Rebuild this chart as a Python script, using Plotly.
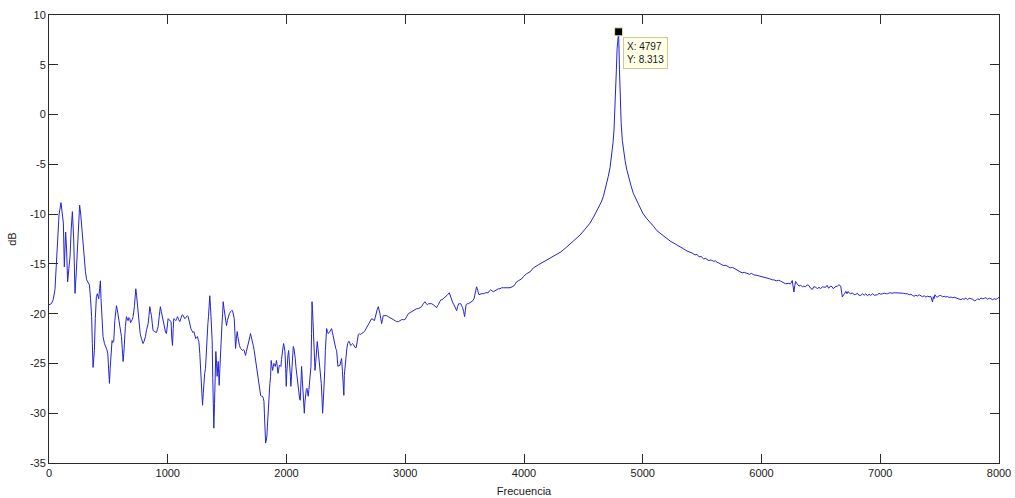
import plotly.graph_objects as go

# Espectro de magnitud (dB) frente a frecuencia (Hz)
frecuencia = [
    0, 20, 35, 50, 62, 73, 85, 101, 112, 121, 129, 140, 148, 157, 167, 177, 187, 197, 208, 219,
    229, 239, 250, 258, 267, 275, 287, 298, 307, 317, 330, 340, 350, 359, 365, 371, 377, 382, 390, 399,
    407, 413, 419, 426, 433, 438, 444, 450, 455, 467, 478, 487, 495, 502, 509, 515, 520, 526, 531, 538,
    545, 554, 561, 568, 575, 582, 589, 596, 603, 610, 617, 624, 630, 635, 643, 652, 659, 666, 673, 680,
    687, 694, 701, 708, 713, 719, 725, 731, 738, 745, 752, 759, 768, 778, 785, 792, 800, 812, 822, 835,
    842, 849, 856, 863, 870, 877, 890, 905, 912, 919, 928, 938, 946, 955, 965, 975, 982, 989, 996, 1003,
    1010, 1017, 1023, 1028, 1034, 1040, 1046, 1051, 1060, 1068, 1075, 1082, 1092, 1102, 1109, 1116, 1123, 1130, 1137, 1144,
    1151, 1158, 1165, 1172, 1179, 1186, 1195, 1203, 1212, 1220, 1228, 1236, 1243, 1250, 1256, 1262, 1270, 1276, 1282, 1287,
    1293, 1299, 1304, 1311, 1318, 1325, 1332, 1338, 1343, 1349, 1354, 1360, 1366, 1370, 1374, 1379, 1383, 1388, 1394, 1399,
    1405, 1411, 1416, 1421, 1425, 1429, 1433, 1439, 1444, 1450, 1456, 1462, 1467, 1474, 1481, 1488, 1495, 1502, 1509, 1519,
    1529, 1537, 1546, 1553, 1560, 1566, 1571, 1578, 1585, 1590, 1596, 1604, 1613, 1621, 1630, 1637, 1644, 1650, 1655, 1662,
    1669, 1677, 1686, 1692, 1697, 1704, 1711, 1720, 1728, 1738, 1748, 1758, 1767, 1775, 1782, 1790, 1798, 1805, 1810, 1814,
    1818, 1824, 1830, 1835, 1839, 1843, 1849, 1855, 1860, 1866, 1871, 1877, 1883, 1889, 1894, 1900, 1905, 1911, 1916, 1922,
    1928, 1934, 1939, 1946, 1953, 1958, 1964, 1970, 1975, 1981, 1987, 1993, 1998, 2002, 2006, 2012, 2018, 2024, 2029, 2033,
    2037, 2042, 2048, 2053, 2057, 2063, 2068, 2074, 2079, 2086, 2093, 2099, 2105, 2111, 2116, 2122, 2127, 2133, 2138, 2144,
    2150, 2155, 2161, 2167, 2172, 2178, 2183, 2189, 2195, 2200, 2206, 2211, 2215, 2219, 2223, 2227, 2231, 2236, 2240, 2246,
    2251, 2255, 2259, 2265, 2271, 2277, 2282, 2288, 2293, 2299, 2304, 2310, 2316, 2322, 2327, 2333, 2338, 2345, 2352, 2359,
    2366, 2373, 2380, 2387, 2394, 2401, 2408, 2415, 2422, 2428, 2433, 2442, 2450, 2457, 2464, 2471, 2478, 2483, 2487, 2494,
    2501, 2508, 2515, 2522, 2529, 2540, 2549, 2556, 2563, 2570, 2578, 2587, 2596, 2605, 2613, 2620, 2633, 2647, 2661, 2675,
    2689, 2703, 2717, 2729, 2740, 2747, 2754, 2763, 2773, 2780, 2787, 2794, 2801, 2808, 2815, 2829, 2843, 2857, 2871, 2885,
    2899, 2913, 2928, 2942, 2956, 2970, 2984, 2998, 3012, 3026, 3040, 3054, 3068, 3082, 3096, 3110, 3124, 3138, 3152, 3166,
    3176, 3186, 3197, 3208, 3222, 3236, 3250, 3265, 3272, 3279, 3290, 3301, 3310, 3320, 3331, 3343, 3357, 3371, 3381, 3391,
    3400, 3410, 3422, 3433, 3441, 3450, 3458, 3467, 3475, 3483, 3492, 3500, 3506, 3512, 3522, 3531, 3545, 3559, 3569, 3579,
    3590, 3601, 3611, 3621, 3639, 3657, 3678, 3699, 3709, 3719, 3730, 3742, 3756, 3770, 3784, 3798, 3812, 3826, 3854, 3882,
    3900, 3916, 3927, 3938, 3952, 3966, 3980, 3994, 4020, 4051, 4079, 4120, 4163, 4210, 4261, 4310, 4360, 4415, 4472, 4515,
    4556, 4590, 4626, 4650, 4668, 4690, 4710, 4725, 4738, 4750, 4758, 4765, 4771, 4778, 4784, 4790, 4797, 4804, 4810, 4818,
    4828, 4840, 4851, 4865, 4879, 4900, 4920, 4950, 4977, 5000, 5030, 5063, 5089, 5120, 5155, 5190, 5230, 5274, 5310, 5345,
    5380, 5415, 5440, 5457, 5475, 5490, 5513, 5530, 5556, 5575, 5598, 5612, 5626, 5640, 5660, 5682, 5700, 5720, 5738, 5755,
    5775, 5795, 5815, 5837, 5855, 5879, 5900, 5915, 5935, 5960, 5992, 6010, 6030, 6048, 6070, 6090, 6104, 6125, 6145, 6160,
    6180, 6203, 6225, 6245, 6259, 6266, 6273, 6280, 6287, 6300, 6315, 6330, 6345, 6357, 6370, 6385, 6399, 6410, 6428, 6440,
    6456, 6470, 6484, 6498, 6512, 6525, 6540, 6552, 6566, 6582, 6595, 6605, 6620, 6639, 6652, 6667, 6674, 6681, 6690, 6700,
    6710, 6720, 6729, 6740, 6751, 6765, 6780, 6793, 6808, 6820, 6835, 6850, 6865, 6878, 6892, 6906, 6920, 6935, 6950, 6963,
    6976, 6990, 7004, 7018, 7035, 7050, 7061, 7080, 7100, 7117, 7140, 7160, 7173, 7195, 7210, 7229, 7245, 7258, 7271, 7285,
    7300, 7314, 7328, 7342, 7356, 7370, 7384, 7398, 7412, 7426, 7433, 7440, 7447, 7453, 7460, 7471, 7482, 7496, 7510, 7524,
    7538, 7553, 7566, 7580, 7595, 7610, 7623, 7637, 7650, 7665, 7679, 7693, 7707, 7721, 7735, 7749, 7763, 7777, 7792, 7806,
    7820, 7834, 7848, 7862, 7876, 7890, 7904, 7918, 7932, 7946, 7960, 7975, 7990, 8000,
]

magnitud_db = [
    -19.1, -19.0, -18.6, -17.6, -15.0, -11.9, -10.0, -8.85, -10.0, -10.9, -15.3, -11.8, -13.5, -16.8, -15.5, -14.3, -11.5, -9.75, -12.5, -17.96,
    -16.0, -13.9, -11.0, -9.1, -10.0, -11.3, -13.0, -14.3, -15.8, -16.6, -17.0, -17.1, -18.5, -20.3, -23.0, -25.4, -24.5, -23.7, -20.5, -18.3,
    -18.0, -18.2, -18.5, -17.5, -16.7, -18.5, -20.3, -21.5, -22.3, -23.0, -23.3, -23.6, -24.0, -25.5, -27.0, -25.5, -24.7, -23.5, -22.7, -22.9,
    -22.8, -20.7, -19.8, -19.2, -19.6, -20.2, -20.7, -21.0, -21.5, -22.3, -23.5, -24.8, -24.0, -22.7, -21.3, -20.3, -20.6, -20.7, -20.4, -20.5,
    -20.9, -20.8, -20.6, -20.3, -20.0, -19.3, -18.4, -17.5, -18.2, -19.0, -20.2, -21.3, -22.0, -22.5, -22.8, -23.0, -22.8, -22.3, -21.6, -21.0,
    -20.2, -19.3, -19.8, -20.2, -21.0, -21.7, -21.8, -21.9, -21.6, -21.3, -20.3, -19.3, -19.8, -20.3, -21.0, -21.7, -21.9, -22.0, -21.3, -20.5,
    -20.6, -20.7, -20.8, -20.8, -22.5, -23.2, -21.5, -20.5, -20.6, -20.7, -20.5, -20.3, -20.6, -20.8, -20.5, -20.3, -20.1, -20.2, -20.4, -20.5,
    -20.4, -20.3, -20.2, -20.3, -20.8, -21.2, -21.5, -21.7, -21.9, -21.8, -22.2, -22.5, -22.4, -22.3, -22.6, -22.8, -24.0, -25.7, -27.5, -28.3,
    -29.2, -28.0, -26.7, -26.0, -25.5, -23.5, -22.0, -21.0, -20.3, -19.0, -18.2, -19.3, -20.7, -21.8, -22.7, -26.5, -29.7, -31.5, -29.0, -27.0,
    -23.8, -25.0, -26.3, -25.3, -24.8, -26.0, -27.2, -25.5, -23.7, -22.4, -21.2, -20.0, -18.8, -19.5, -20.0, -20.6, -21.2, -20.7, -20.3, -20.0,
    -19.8, -19.7, -19.7, -20.0, -20.5, -22.0, -23.5, -22.5, -21.8, -22.3, -22.8, -23.2, -23.5, -23.6, -23.7, -23.6, -23.7, -24.0, -24.2, -23.8,
    -23.5, -23.0, -22.7, -22.3, -22.0, -22.3, -22.7, -23.2, -23.7, -24.5, -25.3, -26.2, -27.0, -27.6, -28.2, -28.3, -28.3, -28.5, -28.8, -30.0,
    -31.0, -33.0, -32.7, -32.3, -31.3, -30.3, -29.0, -27.7, -27.0, -26.3, -24.7, -25.2, -25.7, -25.3, -25.0, -25.1, -25.3, -25.0, -24.7, -25.3,
    -26.0, -25.6, -25.2, -25.2, -25.3, -24.6, -24.0, -23.5, -23.0, -23.3, -23.8, -25.5, -27.3, -26.0, -24.7, -24.2, -23.7, -24.5, -25.3, -26.3,
    -27.3, -26.0, -24.7, -24.0, -23.3, -23.5, -23.8, -24.5, -25.3, -26.1, -27.0, -27.8, -28.5, -28.6, -28.7, -27.0, -25.3, -26.6, -28.0, -29.0,
    -30.0, -28.9, -27.7, -27.6, -27.5, -27.9, -28.3, -27.6, -27.0, -26.1, -25.3, -22.0, -18.8, -19.6, -20.7, -22.4, -24.0, -24.9, -25.7, -24.9,
    -24.2, -23.5, -22.8, -23.5, -24.3, -24.8, -25.3, -26.1, -27.0, -28.5, -30.0, -28.8, -27.7, -25.7, -23.7, -22.6, -21.5, -21.8, -22.0, -21.9,
    -21.8, -21.6, -21.5, -21.9, -22.3, -22.8, -23.3, -23.5, -23.7, -24.5, -25.3, -25.2, -25.2, -24.8, -24.5, -25.8, -27.5, -28.2, -26.2, -25.0,
    -24.0, -23.5, -23.0, -22.8, -22.8, -23.2, -23.1, -23.0, -23.1, -23.3, -23.4, -23.4, -22.5, -22.1, -22.0, -22.1, -22.0, -21.9, -21.7, -21.4,
    -21.0, -20.8, -20.5, -20.6, -20.7, -20.4, -20.0, -19.6, -19.3, -19.6, -20.0, -20.5, -21.0, -20.6, -20.2, -20.2, -20.2, -20.3, -20.4, -20.5,
    -20.6, -20.7, -20.8, -20.8, -20.7, -20.6, -20.6, -20.6, -20.3, -20.0, -19.9, -19.8, -19.7, -19.6, -19.5, -19.5, -19.4, -19.3, -19.0, -18.8,
    -19.0, -19.1, -19.0, -19.0, -19.0, -19.1, -19.3, -19.4, -19.2, -19.1, -18.8, -18.6, -18.6, -18.5, -18.4, -18.3, -18.1, -17.9, -18.3, -18.6,
    -18.9, -19.1, -19.4, -19.7, -19.3, -19.0, -19.0, -19.0, -19.2, -19.4, -19.8, -20.3, -19.7, -19.1, -19.0, -19.0, -18.9, -18.8, -18.7, -18.5,
    -17.9, -17.3, -17.7, -18.1, -18.0, -18.0, -17.9, -17.9, -17.7, -17.6, -17.7, -17.8, -17.7, -17.6, -17.5, -17.5, -17.4, -17.4, -17.4, -17.4,
    -17.3, -17.2, -17.0, -16.8, -16.7, -16.6, -16.5, -16.3, -16.0, -15.8, -15.4, -15.1, -14.8, -14.5, -14.2, -13.8, -13.3, -12.7, -12.1, -11.5,
    -10.9, -10.2, -9.4, -8.8, -8.25, -7.3, -6.2, -5.3, -4.2, -2.8, -1.55, 0.2, 1.9, 4.5, 6.6, 7.7, 8.313, 4.5, 1.5, -0.8,
    -2.6, -3.8, -4.6, -5.5, -6.2, -7.1, -7.9, -8.7, -9.3, -9.9, -10.4, -10.8, -11.2, -11.67, -12.0, -12.33, -12.7, -13.0, -13.3, -13.5,
    -13.75, -13.9, -14.1, -14.05, -14.3, -14.25, -14.5, -14.45, -14.67, -14.6, -14.75, -14.7, -14.85, -14.9, -15.05, -15.17, -15.15, -15.3, -15.4, -15.35,
    -15.5, -15.6, -15.75, -15.9, -15.85, -16.0, -16.05, -15.95, -16.1, -16.15, -16.23, -16.3, -16.4, -16.43, -16.5, -16.6, -16.6, -16.7, -16.65, -16.73,
    -16.85, -17.0, -16.95, -17.0, -16.67, -17.3, -17.83, -17.2, -16.77, -17.0, -17.23, -17.15, -17.3, -17.23, -17.3, -17.1, -17.17, -17.4, -17.57, -17.3,
    -17.33, -17.5, -17.35, -17.5, -17.3, -17.33, -17.35, -17.15, -17.45, -17.23, -17.3, -17.5, -17.3, -17.23, -17.1, -17.23, -17.7, -18.33, -18.1, -18.0,
    -17.75, -18.0, -17.77, -17.95, -18.0, -17.9, -18.1, -18.07, -17.95, -18.15, -18.17, -18.0, -18.15, -18.0, -18.2, -18.05, -18.17, -18.0, -18.15, -18.1,
    -18.1, -17.95, -18.05, -18.0, -17.95, -18.0, -18.0, -17.9, -17.95, -17.9, -17.9, -17.92, -17.9, -17.95, -18.0, -18.0, -18.1, -18.05, -18.17, -18.25,
    -18.15, -18.23, -18.1, -18.17, -18.3, -18.2, -18.33, -18.25, -18.3, -18.27, -18.5, -18.83, -18.3, -18.5, -18.1, -18.3, -18.33, -18.2, -18.17, -18.3,
    -18.25, -18.33, -18.28, -18.38, -18.33, -18.4, -18.35, -18.43, -18.5, -18.6, -18.6, -18.5, -18.55, -18.43, -18.6, -18.45, -18.5, -18.55, -18.7, -18.67,
    -18.5, -18.6, -18.43, -18.5, -18.45, -18.4, -18.55, -18.45, -18.5, -18.6, -18.5, -18.57, -18.45, -18.35,
]

# Punto marcado con la etiqueta de datos
pico_x = [4797]
pico_y = [8.313]

x_ticks = [0, 1000, 2000, 3000, 4000, 5000, 6000, 7000, 8000]
y_ticks = [-35, -30, -25, -20, -15, -10, -5, 0, 5, 10]

fuente = "Liberation Sans, Arial, Helvetica, sans-serif"

fig = go.Figure()
fig.add_trace(go.Scatter(
    x=frecuencia, y=magnitud_db, mode="lines",
    line=dict(color="rgb(35,35,215)", width=1),
    showlegend=False, hoverinfo="x+y",
))
fig.add_trace(go.Scatter(
    x=pico_x, y=pico_y, mode="markers",
    marker=dict(symbol="square", size=8, color="black",
                line=dict(color="rgb(235,235,170)", width=1)),
    showlegend=False, cliponaxis=False,
))

fig.add_annotation(
    x=pico_x[0], y=pico_y[0], xref="x", yref="y",
    text=f"X: {pico_x[0]}<br>Y: {pico_y[0]}",
    showarrow=False, xanchor="left", yanchor="top", align="left",
    xshift=4, yshift=-5,
    bgcolor="rgb(255,255,230)", bordercolor="rgb(205,200,150)",
    borderwidth=1, borderpad=3,
    font=dict(family=fuente, size=10, color="#1a1a1a"),
)

eje = dict(
    showgrid=False, zeroline=False, automargin=False,
    showline=True, linecolor="#2a2a2a", linewidth=1, mirror="ticks",
    ticks="inside", ticklen=9, tickwidth=1, tickcolor="#2a2a2a",
    tickfont=dict(family=fuente, size=11, color="#1a1a1a"),
)

fig.update_layout(
    width=1015, height=498,
    margin=dict(l=49, r=16, t=15, b=35),
    paper_bgcolor="white", plot_bgcolor="white",
    xaxis=dict(range=[0, 8000], tickvals=x_ticks, ticktext=[str(v) for v in x_ticks],
               title=dict(text="Frecuencia", standoff=9,
                          font=dict(family=fuente, size=11, color="#1a1a1a")),
               **eje),
    yaxis=dict(range=[-35, 10], tickvals=y_ticks, ticktext=[str(v) for v in y_ticks],
               title=dict(text="dB", standoff=11,
                          font=dict(family=fuente, size=11, color="#1a1a1a")),
               **eje),
)

fig.write_html("out.html")
